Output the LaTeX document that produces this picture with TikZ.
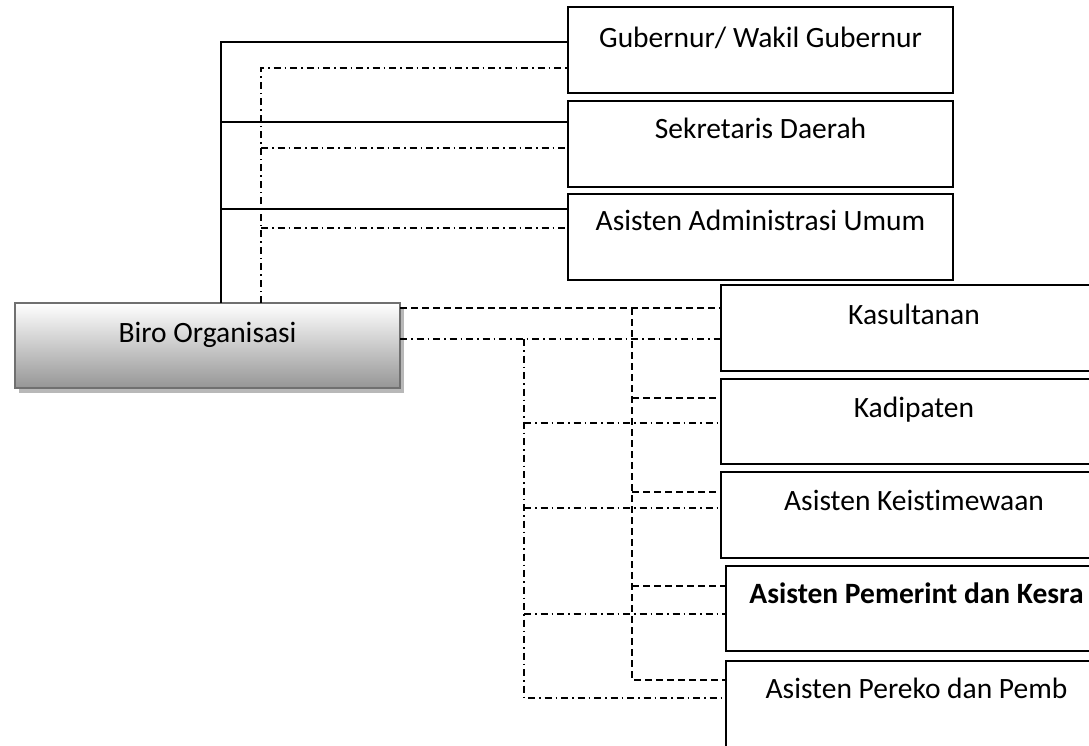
\documentclass[tikz,border=0pt]{standalone}
\usepackage{fontspec}
\setmainfont{Carlito}[Ligatures=NoCommon]
\usetikzlibrary{calc}
\definecolor{framegray}{RGB}{112,112,112}
\definecolor{shadegray}{RGB}{184,184,184}
\definecolor{lowgray}{RGB}{150,150,150}
\definecolor{midgray}{RGB}{222,222,222}
\begin{document}
\begin{tikzpicture}[x=1pt,y=-1pt,
  unitbox/.style={draw=black, line width=1.8pt, minimum width=385pt, minimum height=86pt,
    anchor=north west, inner sep=0pt, outer sep=0pt},
  unittext/.style={anchor=base, inner sep=0pt, font=\fontsize{29.5}{34}\selectfont},
  solidln/.style={line width=1.5pt, black},
  dashln/.style={line width=1.5pt, black, dash pattern=on 7pt off 4pt},
  dashdotln/.style={line width=1.5pt, black, dash pattern=on 7pt off 4pt on 1.5pt off 4pt}]
\useasboundingbox (0,0) rectangle (1089,745);
\clip (0,0) rectangle (1089,745);

% shadow and shaded body of the central unit
\fill[shadegray] (19,308) rectangle (404,393);
\node[draw=framegray, line width=2.4pt, minimum width=385pt, minimum height=85pt,
  anchor=north west, inner sep=0pt, outer sep=0pt,
  top color=white, middle color=midgray, bottom color=lowgray] (biro) at (15,303) {};
\node[unittext] (biroT) at ($(biro.north)+(0,39)$) {Biro Organisasi};

% upper units
\node[unitbox] (gub) at (568,7) {};
\node[unitbox] (sek) at (568,101) {};
\node[unitbox] (adm) at (568,194) {};
\node[unittext] (gubT) at ($(gub.north)+(0,40)$) {Gubernur/ Wakil Gubernur};
\node[unittext] (sekT) at ($(sek.north)+(0,37)$) {Sekretaris Daerah};
\node[unittext] (admT) at ($(adm.north)+(0,36)$) {Asisten Administrasi Umum};

% lower units
\node[unitbox, minimum width=386pt] (kas) at (721,285) {};
\node[unitbox, minimum width=386pt, minimum height=85pt] (kad) at (721,379) {};
\node[unitbox, minimum width=386pt] (kei) at (721,472) {};
\node[unitbox, minimum width=381pt, minimum height=85pt] (pem) at (726,566) {};
\node[unitbox, minimum width=381pt] (per) at (726,661) {};
\node[unittext] (kasT) at ($(kas.north)+(0,39)$) {Kasultanan};
\node[unittext] (kadT) at ($(kad.north)+(0,38)$) {Kadipaten};
\node[unittext] (keiT) at ($(kei.north)+(0,38)$) {Asisten Keistimewaan};
\node[unittext, font=\fontsize{29.5}{34}\selectfont\bfseries] (pemT) at ($(pem.north)+(0,37)$) {Asisten Pemerint dan Kesra};
\node[unittext] (perT) at ($(per.north)+(0,37)$) {Asisten Pereko dan Pemb};

% trunk columns
\coordinate (sx) at (221,0);
\coordinate (dx) at (261,0);
\coordinate (dv) at (632,0);
\coordinate (ddv) at (524,0);

% ports on the upper units
\coordinate (gubS) at ($(gub.north west)+(0,35)$);
\coordinate (sekS) at ($(sek.north west)+(0,21)$);
\coordinate (admS) at ($(adm.north west)+(0,15)$);
\coordinate (gubD) at ($(gub.north west)+(0,61)$);
\coordinate (sekD) at ($(sek.north west)+(0,47)$);
\coordinate (admD) at ($(adm.north west)+(0,34)$);

% ports on the lower units
\coordinate (kasA) at ($(kas.north west)+(0,23)$);
\coordinate (kadA) at ($(kad.north west)+(0,19)$);
\coordinate (keiA) at ($(kei.north west)+(0,20)$);
\coordinate (pemA) at ($(pem.north west)+(0,20)$);
\coordinate (perA) at ($(per.north west)+(0,19)$);
\coordinate (kasB) at ($(kas.north west)+(0,54)$);
\coordinate (kadB) at ($(kad.north west)+(0,44)$);
\coordinate (keiB) at ($(kei.north west)+(0,36)$);
\coordinate (pemB) at ($(pem.north west)+(0,48)$);
\coordinate (perB) at ($(per.north west)+(0,37)$);

% solid command lines
\draw[solidln] (biro.north -| sx) |- (gubS);
\draw[solidln] (sekS -| sx) -- (sekS);
\draw[solidln] (admS -| sx) -- (admS);

% dash-dot coordination lines upward
\draw[dashdotln] (biro.north -| dx) |- (gubD);
\draw[dashdotln] (sekD -| dx) -- (sekD);
\draw[dashdotln] (admD -| dx) -- (admD);

% dashed lines to the lower units
\draw[dashln] (biro.east |- kasA) -- (kasA);
\draw[dashln] (kasA -| dv) |- (perA);
\draw[dashln] (kadA -| dv) -- (kadA);
\draw[dashln] (keiA -| dv) -- (keiA);
\draw[dashln] (pemA -| dv) -- (pemA);

% dash-dot lines to the lower units
\draw[dashdotln] (biro.east |- kasB) -- (kasB);
\draw[dashdotln] (kasB -| ddv) |- (perB);
\draw[dashdotln] (kadB -| ddv) -- (kadB);
\draw[dashdotln] (keiB -| ddv) -- (keiB);
\draw[dashdotln] (pemB -| ddv) -- (pemB);
\end{tikzpicture}
\end{document}
